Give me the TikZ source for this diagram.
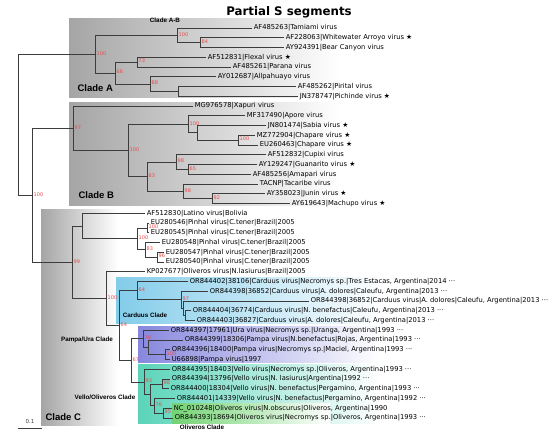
\documentclass[tikz,border=0pt]{standalone}
\usepackage{fontspec}
\setmainfont{DejaVu Sans}
\newfontfamily\cladefont{Liberation Sans}
\usepackage{xcolor}
\usepackage{tikz}
\usetikzlibrary{positioning}
\definecolor{cladeGray}{RGB}{165, 165, 165}
\definecolor{carduusBlue}{RGB}{130, 204, 234}
\definecolor{pampaViolet}{RGB}{135, 135, 222}
\definecolor{velloTeal}{RGB}{90, 212, 185}
\definecolor{oliverosGreen}{RGB}{115, 210, 115}
\definecolor{bootRed}{RGB}{235, 75, 75}
\definecolor{branchGray}{RGB}{60, 60, 60}
\tikzset{
    branch/.style={draw=branchGray, line width=0.7pt},
    tip/.style={anchor=west, inner xsep=1.6pt, inner ysep=0pt, font=\fontsize{6.75}{7}\selectfont},
    boot/.style={anchor=west, inner sep=0.5pt, xshift=1pt, yshift=1pt, text=bootRed, font=\fontsize{5}{5}\selectfont},
    cladebig/.style={font=\cladefont\bfseries\fontsize{9.5}{10}\selectfont},
    cladesmall/.style={font=\cladefont\bfseries\fontsize{6.3}{7}\selectfont}
}

\begin{document}
\begin{tikzpicture}[x=1pt, y=-1pt]
                \useasboundingbox (0,0) rectangle (550,436);

                % clade backgrounds
                \shade[left color=cladeGray, right color=white] (69,19) rectangle (340,98);
                \shade[left color=cladeGray, right color=white] (69,103) rectangle (340,206);
                \shade[left color=cladeGray, right color=white] (41,210) rectangle (118,425);
                \shade[left color=carduusBlue, right color=white] (116,277) rectangle (380,323);
                \shade[left color=pampaViolet, right color=white] (138,326) rectangle (380,362);
                \shade[left color=velloTeal, right color=white] (138,364) rectangle (380,423);
                \shade[left color=oliverosGreen, right color=white] (172,403) rectangle (330,423);

                % inner nodes
                \coordinate (root) at (18,124.7);
                \coordinate (nA) at (95,54.2);
                \coordinate (nAB) at (177,35.3);
                \coordinate (nWB) at (200,42.6);
                \coordinate (n66) at (115,73.1);
                \coordinate (nFP) at (137,62.1);
                \coordinate (n88) at (150,84.1);
                \coordinate (nPP) at (178,91.4);
                \coordinate (nBC) at (32,195.3);
                \coordinate (nB) at (73,128.2);
                \coordinate (nB2) at (128,150.5);
                \coordinate (nApore) at (188,124.3);
                \coordinate (nSC) at (197,132.8);
                \coordinate (nCh) at (238,140.1);
                \coordinate (nB3) at (147,176.7);
                \coordinate (nCGA) at (176,162.1);
                \coordinate (nGA) at (188,169.4);
                \coordinate (nTJM) at (183,191.3);
                \coordinate (nJM) at (212,198.6);
                \coordinate (nC) at (72,262.3);
                \coordinate (nLP) at (82,226.0);
                \coordinate (nPin) at (137,238.8);
                \coordinate (nP12) at (147,227.9);
                \coordinate (nP3) at (145,249.8);
                \coordinate (nP45) at (157,257.1);
                \coordinate (nOC) at (106,298.6);
                \coordinate (nCPV) at (119,325.5);
                \coordinate (nCar) at (137,290.6);
                \coordinate (n97) at (181,299.8);
                \coordinate (nX) at (183,308.3);
                \coordinate (nCd45) at (185,315.6);
                \coordinate (nPV) at (131,360.4);
                \coordinate (n76) at (143,338.8);
                \coordinate (n2) at (148,347.3);
                \coordinate (nPam) at (165,354.6);
                \coordinate (n93) at (144,382.0);
                \coordinate (nVO2) at (150,394.8);
                \coordinate (n98) at (162,383.9);
                \coordinate (n76b) at (154,405.8);
                \coordinate (nOl) at (163,413.1);

                % tips
                \node[tip] (t0) at (252,28) {AF485263|Tamiami virus};
                \node[tip] (t1) at (284,37.75) {AF228063|Whitewater Arroyo virus ★};
                \node[tip] (t2) at (284,47.5) {AY924391|Bear Canyon virus};
                \node[tip] (t3) at (206,57.25) {AF512831|Flexal virus ★};
                \node[tip] (t4) at (231,67) {AF485261|Parana virus};
                \node[tip] (t5) at (216,76.75) {AY012687|Allpahuayo virus};
                \node[tip] (t6) at (296,86.5) {AF485262|Pirital virus};
                \node[tip] (t7) at (298,96.25) {JN378747|Pichinde virus ★};
                \node[tip] (t8) at (193,106) {MG976578|Xapuri virus};
                \node[tip] (t9) at (245,115.75) {MF317490|Apore virus};
                \node[tip] (t10) at (266,125.5) {JN801474|Sabia virus ★};
                \node[tip] (t11) at (255,135.25) {MZ772904|Chapare virus ★};
                \node[tip] (t12) at (258,145) {EU260463|Chapare virus ★};
                \node[tip] (t13) at (266,154.75) {AF512832|Cupixi virus};
                \node[tip] (t14) at (257,164.5) {AY129247|Guanarito virus ★};
                \node[tip] (t15) at (251,174.25) {AF485256|Amapari virus};
                \node[tip] (t16) at (258,184) {TACNP|Tacaribe virus};
                \node[tip] (t17) at (265,193.75) {AY358023|Junin virus ★};
                \node[tip] (t18) at (290,203.5) {AY619643|Machupo virus ★};
                \node[tip] (t19) at (145,213.25) {AF512830|Latino virus|Bolivia};
                \node[tip] (t20) at (149,223) {EU280546|Pinhal virus|C.tener|Brazil|2005};
                \node[tip] (t21) at (149,232.75) {EU280545|Pinhal virus|C.tener|Brazil|2005};
                \node[tip] (t22) at (160,242.5) {EU280548|Pinhal virus|C.tener|Brazil|2005};
                \node[tip] (t23) at (164,252.25) {EU280547|Pinhal virus|C.tener|Brazil|2005};
                \node[tip] (t24) at (164,262) {EU280540|Pinhal virus|C.tener|Brazil|2005};
                \node[tip] (t25) at (145,271.75) {KP027677|Oliveros virus|N.lasiurus|Brazil|2005};
                \node[tip] (t26) at (188,281.5) {OR844402|38106|Carduus virus|Necromys sp.|Tres Estacas, Argentina|2014 ···};
                \node[tip] (t27) at (208,291.25) {OR844398|36852|Carduus virus|A. dolores|Caleufu, Argentina|2013 ···};
                \node[tip] (t28) at (309,301) {OR844398|36852|Carduus virus|A. dolores|Caleufu, Argentina|2013 ···};
                \node[tip] (t29) at (191,310.75) {OR844404|36774|Carduus virus|N. benefactus|Caleufu, Argentina|2013 ···};
                \node[tip] (t30) at (195,320.5) {OR844403|36827|Carduus virus|A. dolores|Caleufu, Argentina|2013 ···};
                \node[tip] (t31) at (169,330.25) {OR844397|17961|Ura virus|Necromys sp.|Uranga, Argentina|1993 ···};
                \node[tip] (t32) at (183,340) {OR844399|18306|Pampa virus|N.benefactus|Rojas, Argentina|1993 ···};
                \node[tip] (t33) at (170,349.75) {OR844396|18400|Pampa virus|Necromys sp.|Maciel, Argentina|1993 ···};
                \node[tip] (t34) at (170,359.5) {U66898|Pampa virus|1997};
                \node[tip] (t35) at (170,369.25) {OR844395|18403|Vello virus|Necromys sp.|Oliveros, Argentina|1993 ···};
                \node[tip] (t36) at (170,379) {OR844394|13796|Vello virus|N. lasiurus|Argentina|1992 ···};
                \node[tip] (t37) at (169,388.75) {OR844400|18304|Vello virus|N. benefactus|Pergamino, Argentina|1993 ···};
                \node[tip] (t38) at (175,398.5) {OR844401|14339|Vello virus|N. benefactus|Pergamino, Argentina|1992 ···};
                \node[tip] (t39) at (172,408.25) {NC\_010248|Oliveros virus|N.obscurus|Oliveros, Argentina|1990};
                \node[tip] (t40) at (173,418) {OR844393|18694|Oliveros virus|Necromys sp.|Oliveros, Argentina|1993 ···};

                % branches
                \draw[branch]
                    (root) |- (nA) (root) |- (nBC)
                    (nA) |- (nAB) (nA) |- (n66)
                    (nAB) |- (t0.west) (nAB) |- (nWB)
                    (nWB) |- (t1.west) (nWB) |- (t2.west)
                    (n66) |- (nFP) (n66) |- (n88)
                    (nFP) |- (t3.west) (nFP) |- (t4.west)
                    (n88) |- (t5.west) (n88) |- (nPP)
                    (nPP) |- (t6.west) (nPP) |- (t7.west)
                    (nBC) |- (nB) (nBC) |- (nC)
                    (nB) |- (t8.west) (nB) |- (nB2)
                    (nB2) |- (nApore) (nB2) |- (nB3)
                    (nApore) |- (t9.west) (nApore) |- (nSC)
                    (nSC) |- (t10.west) (nSC) |- (nCh)
                    (nCh) |- (t11.west) (nCh) |- (t12.west)
                    (nB3) |- (nCGA) (nB3) |- (nTJM)
                    (nCGA) |- (t13.west) (nCGA) |- (nGA)
                    (nGA) |- (t14.west) (nGA) |- (t15.west)
                    (nTJM) |- (t16.west) (nTJM) |- (nJM)
                    (nJM) |- (t17.west) (nJM) |- (t18.west)
                    (nC) |- (nLP) (nC) |- (nOC)
                    (nLP) |- (t19.west) (nLP) |- (nPin)
                    (nPin) |- (nP12) (nPin) |- (nP3)
                    (nP12) |- (t20.west) (nP12) |- (t21.west)
                    (nP3) |- (t22.west) (nP3) |- (nP45)
                    (nP45) |- (t23.west) (nP45) |- (t24.west)
                    (nOC) |- (t25.west) (nOC) |- (nCPV)
                    (nCPV) |- (nCar) (nCPV) |- (nPV)
                    (nCar) |- (t26.west) (nCar) |- (n97)
                    (n97) |- (t27.west) (n97) |- (nX)
                    (nX) |- (t28.west) (nX) |- (nCd45)
                    (nCd45) |- (t29.west) (nCd45) |- (t30.west)
                    (nPV) |- (n76) (nPV) |- (n93)
                    (n76) |- (t31.west) (n76) |- (n2)
                    (n2) |- (t32.west) (n2) |- (nPam)
                    (nPam) |- (t33.west) (nPam) |- (t34.west)
                    (n93) |- (t35.west) (n93) |- (nVO2)
                    (nVO2) |- (n98) (nVO2) |- (n76b)
                    (n98) |- (t36.west) (n98) |- (t37.west)
                    (n76b) |- (t38.west) (n76b) |- (nOl)
                    (nOl) |- (t39.west) (nOl) |- (t40.west);

                % bootstrap values
                \node[boot] (bA) at (nA) {100};
                \node[boot] (bAB) at (nAB) {100};
                \node[boot] (bWB) at (nWB) {84};
                \node[boot] (b66) at (n66) {66};
                \node[boot] (bFP) at (nFP) {73};
                \node[boot] (b88) at (n88) {88};
                \node[boot] (bBC) at (nBC) {100};
                \node[boot] (bB) at (nB) {97};
                \node[boot] (bB2) at (nB2) {100};
                \node[boot] (bApore) at (nApore) {100};
                \node[boot] (bCh) at (nCh) {100};
                \node[boot] (bB3) at (nB3) {83};
                \node[boot] (bCGA) at (nCGA) {98};
                \node[boot] (bGA) at (nGA) {65};
                \node[boot] (bTJM) at (nTJM) {98};
                \node[boot] (bJM) at (nJM) {92};
                \node[boot] (bC) at (nC) {99};
                \node[boot] (bPin) at (nPin) {100};
                \node[boot] (bP12) at (nP12) {100};
                \node[boot] (bP3) at (nP3) {83};
                \node[boot] (bP45) at (nP45) {96};
                \node[boot] (bOC) at (nOC) {100};
                \node[boot] (bCPV) at (nCPV) {64};
                \node[boot] (bCar) at (nCar) {64};
                \node[boot] (b97) at (n97) {97};
                \node[boot] (bPV) at (nPV) {67};
                \node[boot] (b76) at (n76) {76};
                \node[boot] (bPam) at (nPam) {100};
                \node[boot] (b93) at (n93) {93};
                \node[boot] (b98) at (n98) {98};
                \node[boot] (b76b) at (n76b) {76};
                \node[boot] (bOl) at (nOl) {95};

                % clade names
                \node[font=\bfseries\fontsize{11.8}{12}\selectfont] (title) at (289,12) {Partial S segments};
                \node[cladesmall] (labAB) at (165,20) {Clade A-B};
                \node[cladebig, anchor=west] (labA) at (74,88) {Clade A};
                \node[cladebig, anchor=west] (labB) at (75,195) {Clade B};
                \node[cladebig, anchor=west] (labC) at (42,417) {Clade C};
                \node[cladesmall] (labCard) at (145,315) {Carduus Clade};
                \node[cladesmall] (labPU) at (87,340) {Pampa/Ura Clade};
                \node[cladesmall] (labVO) at (105,397) {Vello/Oliveros Clade};
                \node[cladesmall] (labOl) at (202,427) {Oliveros Clade};

                % scale bar
                \coordinate (sbL) at (18,428);
                \coordinate (sbR) at (42,428);
                \draw[branchGray, line width=0.6pt] (sbL) -- (sbR);
                \node[font=\fontsize{5.5}{6}\selectfont, text=branchGray] (sbT) at (30,421) {0.1};
            \end{tikzpicture}
\end{document}
